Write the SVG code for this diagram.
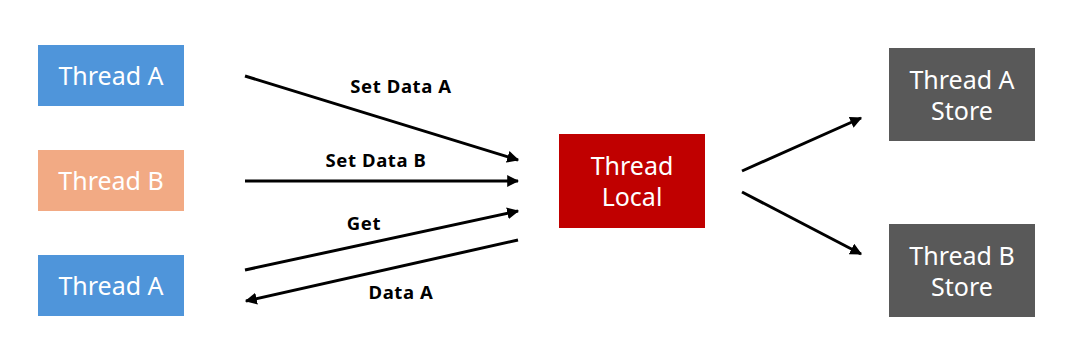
<svg xmlns="http://www.w3.org/2000/svg" width="1065" height="358" viewBox="0 0 1065 358">
<style>
.box text{font-family:"Noto Sans","Noto Sans CJK KR",sans-serif;font-size:25px;fill:#fff;text-anchor:middle}
.lbl{font-family:"Noto Sans","Noto Sans CJK KR",sans-serif;font-size:18.5px;font-weight:bold;letter-spacing:0.6px;fill:#000;text-anchor:middle}
.conn line{stroke:#000;stroke-width:3;marker-end:url(#ah)}
</style>
<defs>
<marker id="ah" viewBox="0 0 10 10" refX="9" refY="5" markerWidth="4" markerHeight="4" orient="auto" markerUnits="strokeWidth">
<path d="M0,0 L10,5 L0,10 z" fill="#000"/>
</marker>
</defs>
<rect width="1065" height="358" fill="#fff"/>
<g id="threadA1" class="box"><rect x="38" y="45" width="146" height="61" fill="#4F95DA"/><text x="111" y="85">Thread A</text></g>
<g id="threadB" class="box"><rect x="38" y="150" width="146" height="61" fill="#F2AA84"/><text x="111" y="190">Thread B</text></g>
<g id="threadA2" class="box"><rect x="38" y="255" width="146" height="61" fill="#4F95DA"/><text x="111" y="295">Thread A</text></g>
<g id="threadLocal" class="box"><rect x="559" y="134" width="146" height="94" fill="#C00000"/><text x="632" y="175">Thread</text><text x="632" y="206">Local</text></g>
<g id="storeA" class="box"><rect x="889" y="48" width="146" height="93" fill="#595959"/><text x="962" y="89">Thread A</text><text x="962" y="120">Store</text></g>
<g id="storeB" class="box"><rect x="889" y="224" width="146" height="93" fill="#595959"/><text x="962" y="265">Thread B</text><text x="962" y="296">Store</text></g>
<g id="connectors" class="conn">
<line x1="245" y1="76" x2="518" y2="160"/>
<line x1="245" y1="181" x2="518" y2="181"/>
<line x1="245" y1="270" x2="518" y2="211"/>
<line x1="518" y1="240" x2="246" y2="301"/>
<line x1="742" y1="171" x2="861" y2="118"/>
<line x1="742" y1="192" x2="861" y2="254"/>
</g>
<g id="labels">
<text class="lbl" x="401" y="93">Set Data A</text>
<text class="lbl" x="376" y="167">Set Data B</text>
<text class="lbl" x="364" y="230">Get</text>
<text class="lbl" x="401" y="299">Data A</text>
</g>
</svg>
